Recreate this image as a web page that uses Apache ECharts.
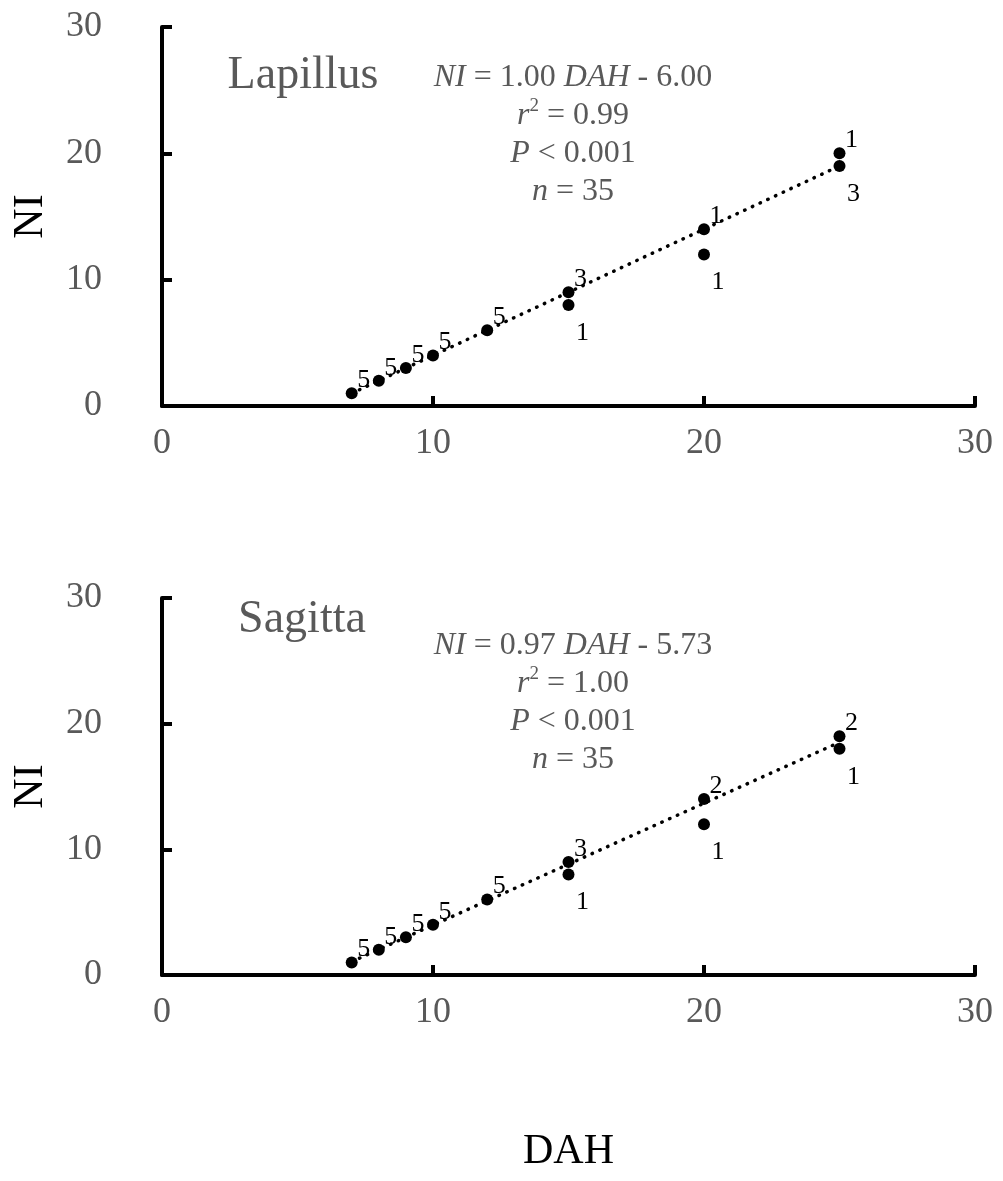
<!DOCTYPE html>
<html><head><meta charset="utf-8">
<script src="https://cdn.jsdelivr.net/npm/echarts@6/dist/echarts.min.js"></script>
<style>html,body{margin:0;padding:0;background:#fff}#c{width:1003px;height:1181px}</style>
</head><body><div id="c"></div>
<script>
// Lapillus panel
var lapDAH   = [7, 8, 9, 10, 12, 15, 15, 20, 20, 25, 25];
var lapNI    = [1, 2, 3, 4, 6, 9, 8, 14, 12, 20, 19];
var lapCount = [5, 5, 5, 5, 5, 3, 1, 1, 1, 1, 3];
var lapFit   = {slope: 1.00, intercept: -6.00, r2: '0.99', p: '0.001', n: 35};
// Sagitta panel
var sagDAH   = [7, 8, 9, 10, 12, 15, 15, 20, 20, 25, 25];
var sagNI    = [1, 2, 3, 4, 6, 9, 8, 14, 12, 19, 18];
var sagCount = [5, 5, 5, 5, 5, 3, 1, 2, 1, 2, 1];
var sagFit   = {slope: 0.97, intercept: -5.73, r2: '1.00', p: '0.001', n: 35};
var fitRange = [7, 25];
var ticks = [0, 10, 20, 30];
var panelNames = ['Lapillus', 'Sagitta'];

var FONT = '"Liberation Serif","Times New Roman",serif';
var GRAY = '#595959';

function points(xs, ys, cs) {
  return xs.map(function (x, i) {
    var below = xs.some(function (x2, j) { return j !== i && x2 === x && ys[j] > ys[i]; });
    return {
      value: [x, ys[i], cs[i]],
      label: below ? {offset: [14, 28]} : {offset: [12, -13]}
    };
  });
}
function fitLine(f) {
  return fitRange.map(function (x) { return [x, +(f.slope * x + f.intercept).toFixed(3)]; });
}
function xAxis(gi, withName) {
  var a = {
    type: 'value', gridIndex: gi, min: 0, max: 30, interval: 10,
    axisLine: {show: true, onZero: false, lineStyle: {color: '#000', width: 4}},
    axisTick: {show: true, inside: true, length: 10, lineStyle: {color: '#000', width: 4}},
    axisLabel: {color: GRAY, fontFamily: FONT, fontSize: 36, margin: 20},
    splitLine: {show: false}
  };
  if (withName) {
    a.name = 'DAH'; a.nameLocation = 'middle'; a.nameGap = 156;
    a.nameTextStyle = {color: '#000', fontFamily: FONT, fontSize: 42};
  }
  return a;
}
function yAxis(gi) {
  return {
    type: 'value', gridIndex: gi, min: 0, max: 30, interval: 10,
    name: 'NI', nameLocation: 'middle', nameGap: 110, nameRotate: 90,
    nameTextStyle: {color: '#000', fontFamily: FONT, fontSize: 42},
    axisLine: {show: true, onZero: false, lineStyle: {color: '#000', width: 4}},
    axisTick: {show: true, inside: true, length: 10, lineStyle: {color: '#000', width: 4}},
    axisLabel: {color: GRAY, fontFamily: FONT, fontSize: 36, margin: 60},
    splitLine: {show: false}
  };
}
function scatter(gi, data) {
  return {
    type: 'scatter', xAxisIndex: gi, yAxisIndex: gi, data: data,
    symbol: 'circle', symbolSize: 12, itemStyle: {color: '#000', opacity: 1}, z: 5,
    label: {show: true, position: 'inside', color: '#000', fontFamily: FONT, fontSize: 26,
      formatter: function (p) { return p.value[2]; }}
  };
}
function line(gi, data) {
  return {
    type: 'line', xAxisIndex: gi, yAxisIndex: gi, data: data, symbol: 'none', z: 3,
    lineStyle: {color: '#000', width: 3.5, type: [0.5, 8], cap: 'round'}, silent: true
  };
}
var rich = {
  i: {fontFamily: FONT, fontStyle: 'italic', fontSize: 32, color: GRAY},
  n: {fontFamily: FONT, fontSize: 32, color: GRAY},
  s: {fontFamily: FONT, fontSize: 19, color: GRAY, verticalAlign: 'top', padding: [0, 0, 12, 0]}
};
function stats(f) {
  var sign = f.intercept < 0 ? '- ' : '+ ';
  return '{i|NI}{n| = ' + f.slope.toFixed(2) + ' }{i|DAH}{n| ' + sign + Math.abs(f.intercept).toFixed(2) + '}\n' +
    '{i|r}{s|2}{n| = ' + f.r2 + '}\n' +
    '{i|P}{n| < ' + f.p + '}\n' +
    '{i|n}{n| = ' + f.n + '}';
}
function statTitle(f, top) {
  return {text: stats(f), left: 568, top: top, textAlign: 'center',
    textStyle: {rich: rich, lineHeight: 38, fontSize: 32, color: GRAY, fontWeight: 'normal'}};
}
function nameTitle(t, left, top) {
  return {text: t, left: left, top: top, textAlign: 'center',
    textStyle: {fontFamily: FONT, fontSize: 46, color: GRAY, fontWeight: 'normal'}};
}

var chart = echarts.init(document.getElementById('c'), null, {renderer: 'canvas'});
chart.setOption({
  backgroundColor: '#fff',
  animation: false,
  title: [
    nameTitle(panelNames[0], 298, 48),
    statTitle(lapFit, 54),
    nameTitle(panelNames[1], 297, 592),
    statTitle(sagFit, 622)
  ],
  grid: [
    {left: 162, right: 28, top: 27, bottom: 775, outerBoundsMode: 'none', containLabel: false},
    {left: 162, right: 28, top: 598, bottom: 206, outerBoundsMode: 'none', containLabel: false}
  ],
  xAxis: [xAxis(0, false), xAxis(1, true)],
  yAxis: [yAxis(0), yAxis(1)],
  series: [
    line(0, fitLine(lapFit)),
    scatter(0, points(lapDAH, lapNI, lapCount)),
    line(1, fitLine(sagFit)),
    scatter(1, points(sagDAH, sagNI, sagCount))
  ]
});
</script></body></html>
